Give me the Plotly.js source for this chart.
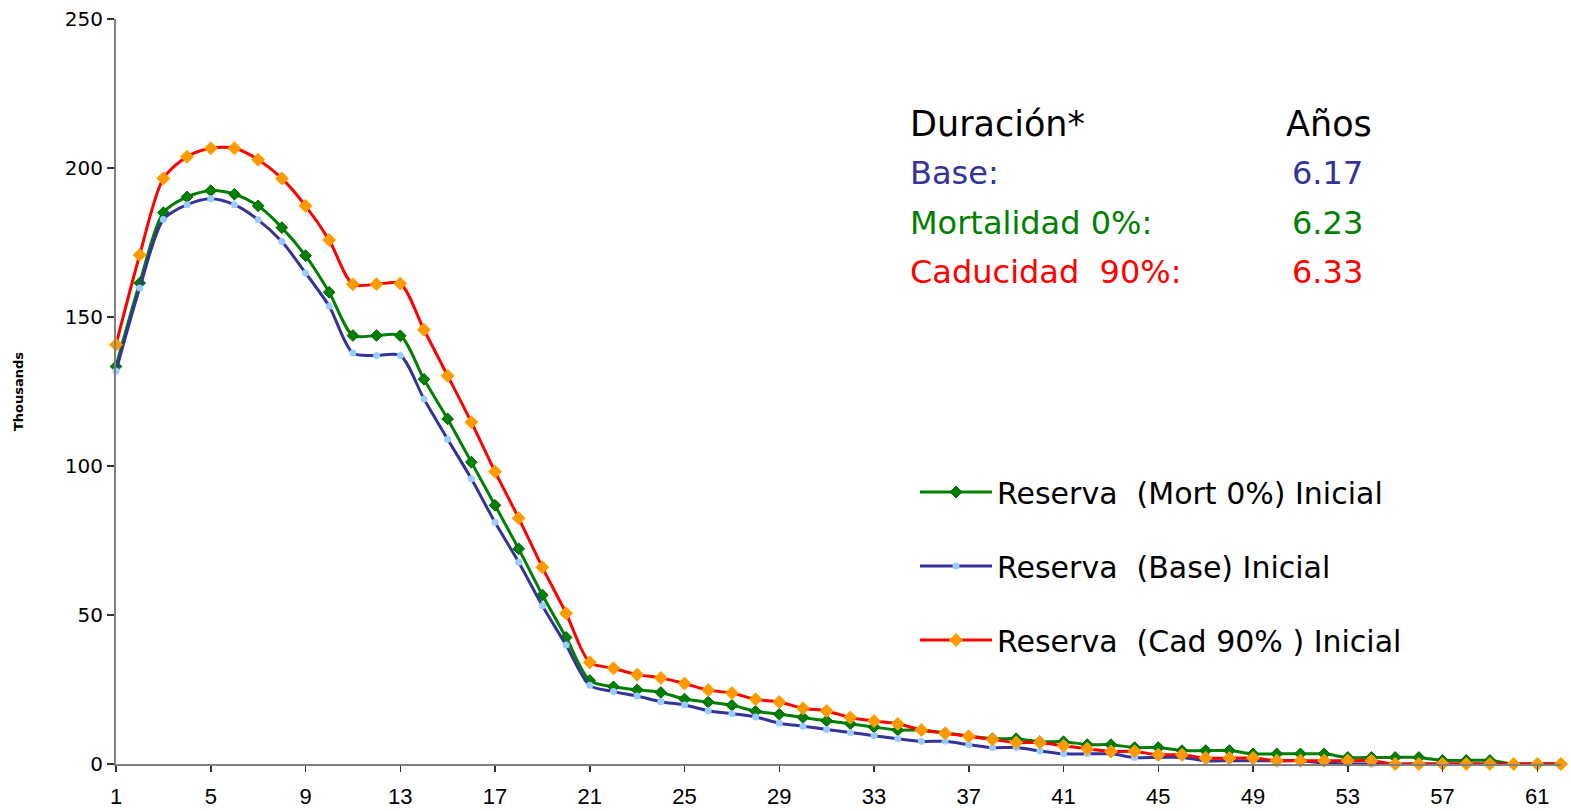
<!DOCTYPE html>
<html><head><meta charset="utf-8">
<script src="https://cdn.plot.ly/plotly-3.0.1.min.js"></script>
<style>html,body{margin:0;padding:0;background:#fff}#chart{width:1571px;height:811px}</style>
</head><body><div id="chart"></div>
<script>
const periods = [1,2,3,4,5,6,7,8,9,10,11,12,13,14,15,16,17,18,19,20,21,22,23,24,25,26,27,28,29,30,31,32,33,34,35,36,37,38,39,40,41,42,43,44,45,46,47,48,49,50,51,52,53,54,55,56,57,58,59,60,61,62];

const reservaMort0 = [133.4,161.4,185.0,190.3,192.4,191.2,187.3,180.0,170.6,158.3,143.8,143.8,143.7,129.1,115.8,101.3,86.8,72.2,56.7,42.5,28.0,25.9,24.9,24.0,21.8,20.8,19.7,17.7,16.7,15.6,14.5,13.5,12.4,11.4,11.4,10.4,9.4,8.5,8.5,7.5,7.5,6.5,6.5,5.5,5.5,4.5,4.5,4.5,3.4,3.4,3.4,3.4,2.2,2.2,2.2,2.2,1.2,1.2,1.2,0,0,0];

const reservaBase = [131.9,159.7,182.7,187.7,189.7,187.7,182.6,175.3,164.8,153.6,137.9,137.1,137.1,122.5,109.0,95.7,81.1,67.7,53.1,39.9,26.4,24.3,22.8,20.9,19.8,17.9,16.9,15.8,13.7,12.7,11.6,10.6,9.5,8.5,7.6,7.6,6.5,5.5,5.5,4.4,3.4,3.4,3.4,2.2,2.2,2.2,1.1,1.1,1.1,1.1,1.1,0.3,0,0,0,0,0,0,0,0,0,0];

const reservaCad90 = [140.7,170.8,196.5,203.8,206.6,206.6,202.8,196.5,187.3,175.8,161.0,161.0,161.2,145.7,130.3,114.7,98.1,82.5,66.0,50.6,34.1,32.1,30.0,28.9,27.0,24.8,23.8,21.7,20.8,18.7,17.8,15.6,14.4,13.5,11.4,10.3,9.3,8.2,7.2,7.2,6.1,5.1,4.2,4.2,3.1,3.1,2.0,2.0,2.0,1.1,1.1,1.1,1.1,1.1,0,0,0,0,0,0,0,0];

const seriesNames = ['Reserva\u00a0 (Mort 0%) Inicial','Reserva\u00a0 (Base) Inicial','Reserva\u00a0 (Cad 90% ) Inicial'];
const xTickVals = [1,5,9,13,17,21,25,29,33,37,41,45,49,53,57,61];
const yTickVals = [0,50,100,150,200,250];

const durLabels = ['Base:','Mortalidad 0%:','Caducidad\u00a0 90%:'];
const durValues = ['6.17','6.23','6.33'];
const durColors = ['#333399','#008000','#FF0000'];

const FONT = 'DejaVu Sans, Arial, sans-serif';
const TICKFONT = 'Liberation Sans, Arial, sans-serif';

const traces = [
  {x: periods, y: reservaMort0, name: seriesNames[0], type:'scatter', mode:'lines+markers',
   legendgroup:'g1', cliponaxis:false,
   line:{color:'#008000', width:3, shape:'spline', smoothing:0.8},
   marker:{symbol:'diamond', size:9, color:'#008000', line:{color:'#006000', width:1}}},
  {x: periods, y: reservaBase, name: seriesNames[1], type:'scatter', mode:'lines+markers',
   legendgroup:'g2', cliponaxis:false,
   line:{color:'#333399', width:3, shape:'spline', smoothing:0.8},
   marker:{symbol:'circle', size:7, color:'#99CCFF', line:{width:0}}},
  {x: periods, y: reservaCad90, name: seriesNames[2], type:'scatter', mode:'lines+markers',
   legendgroup:'g3', cliponaxis:false,
   line:{color:'#FF0000', width:3, shape:'spline', smoothing:0.8},
   marker:{symbol:'diamond', size:10, color:'#FF9900', line:{color:'#FFA500', width:1}}}
];

// pixel -> paper helpers for text placement
const L = 116, R = 10, T = 19, B = 47, W = 1571, H = 811;
const pw = W - L - R, ph = H - T - B;
const px = v => (v - L) / pw;
const py = v => (H - B - v) / ph;

const annotations = [
  {text:'Duración*', x:px(908), y:py(124), xanchor:'left', yanchor:'middle', font:{family:FONT, size:35, color:'#000'}},
  {text:'Años', x:px(1374), y:py(124), xanchor:'right', yanchor:'middle', font:{family:FONT, size:35, color:'#000'}}
];
const rowY = [173, 223, 272];
for (let i = 0; i < durLabels.length; i++) {
  annotations.push({text: durLabels[i], x:px(908), y:py(rowY[i]), xanchor:'left', yanchor:'middle', font:{family:FONT, size:32, color:durColors[i]}});
  annotations.push({text: durValues[i], x:px(1365), y:py(rowY[i]), xanchor:'right', yanchor:'middle', font:{family:FONT, size:32, color:durColors[i]}});
}
annotations.forEach(a => {a.xref='paper'; a.yref='paper'; a.showarrow=false;});

const layout = {
  width: W, height: H,
  margin:{l:L, r:R, t:T, b:B, pad:0},
  paper_bgcolor:'#fff', plot_bgcolor:'#fff',
  showlegend:true,
  legend:{x:px(915), y:py(466), xanchor:'left', yanchor:'top', traceorder:'grouped', tracegroupgap:32,
          itemwidth:72, font:{family:FONT, size:30, color:'#000'}, bgcolor:'rgba(0,0,0,0)'},
  xaxis:{range:[1,62], tickmode:'array', tickvals:xTickVals, ticks:'outside', ticklen:6, tickwidth:1.5, tickcolor:'#333',
         showline:true, linecolor:'#808080', linewidth:2, showgrid:false, zeroline:false,
         ticklabelstandoff:6,
         tickfont:{family:TICKFONT, size:22, color:'#000'}},
  yaxis:{range:[0,250], tickmode:'array', tickvals:yTickVals, ticks:'outside', ticklen:7, tickwidth:1.5, tickcolor:'#333',
         showline:true, linecolor:'#808080', linewidth:2, showgrid:false, zeroline:false,
         tickfont:{family:FONT, size:20, color:'#000'},
         title:{text:'Thousands', standoff:38, font:{family:FONT, size:13, color:'#000', weight:'bold'}}},
  annotations: annotations
};

Plotly.newPlot('chart', traces, layout, {displayModeBar:false, staticPlot:true});
</script></body></html>
